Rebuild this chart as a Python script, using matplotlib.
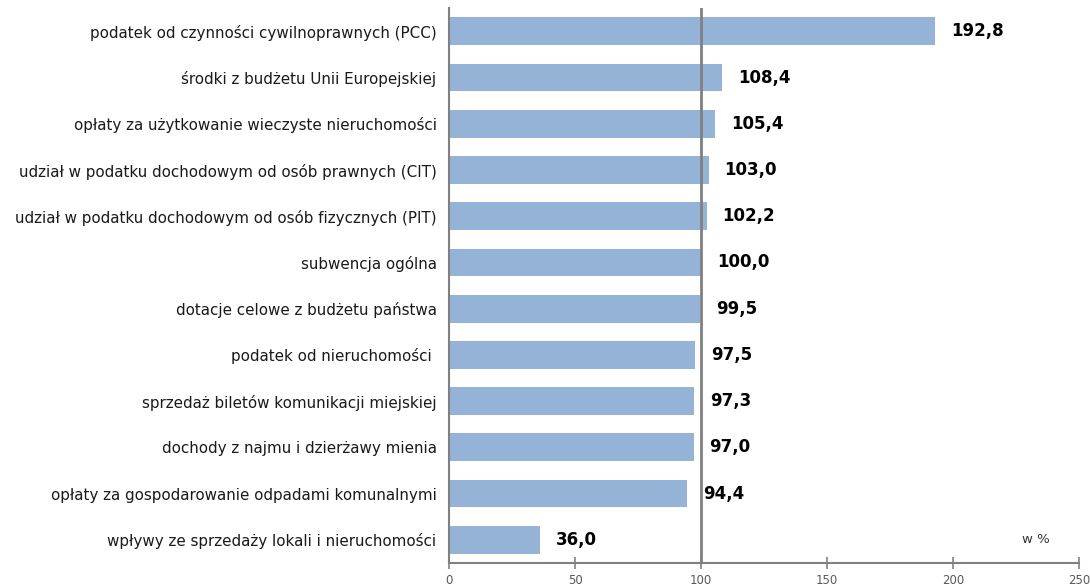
import matplotlib.pyplot as plt

categories = [
    "podatek od czynności cywilnoprawnych (PCC)",
    "środki z budżetu Unii Europejskiej",
    "opłaty za użytkowanie wieczyste nieruchomości",
    "udział w podatku dochodowym od osób prawnych (CIT)",
    "udział w podatku dochodowym od osób fizycznych (PIT)",
    "subwencja ogólna",
    "dotacje celowe z budżetu państwa",
    "podatek od nieruchomości ",
    "sprzedaż biletów komunikacji miejskiej",
    "dochody z najmu i dzierżawy mienia",
    "opłaty za gospodarowanie odpadami komunalnymi",
    "wpływy ze sprzedaży lokali i nieruchomości",
]
values = [192.8, 108.4, 105.4, 103.0, 102.2, 100.0, 99.5, 97.5, 97.3, 97.0, 94.4, 36.0]
xticks = [0, 50, 100, 150, 200, 250]

fig = plt.figure(figsize=(10.9, 5.87), dpi=100)
ax = fig.add_axes([0.412, 0.041, 0.578, 0.945])

pos = list(range(len(categories)))
ax.barh(pos, values, height=0.6, color="#95B3D7", zorder=2)
ax.axvline(100, color="#808080", linewidth=2, zorder=3)

# value labels next to bars, decimal comma
for y, v in zip(pos, values):
    ax.annotate(f"{v:.1f}".replace(".", ","), (v, y), xytext=(16, 0),
                textcoords="offset pixels",
                va="center", ha="left", fontsize=12, fontweight="bold", color="black")

ax.set_ylim(len(categories) - 0.5, -0.5)
ax.set_xlim(0, 250)
ax.set_yticks(pos)
ax.set_yticklabels(categories, fontsize=10.9, color="#1a1a1a")
ax.tick_params(axis="y", length=0, pad=9)
ax.set_xticks(xticks)
ax.set_xticklabels([str(t) for t in xticks], fontsize=8.5, color="#595959")
ax.tick_params(axis="x", direction="inout", length=8, width=1.2, color="#808080", pad=4)

for s in ["top", "right"]:
    ax.spines[s].set_visible(False)
for s in ["left", "bottom"]:
    ax.spines[s].set_color("#808080")
    ax.spines[s].set_linewidth(1.5)

ax.text(0.91, 0.03, "w %", transform=ax.transAxes, fontsize=9.5, color="#333333",
        ha="left", va="bottom")

fig.savefig("out.png", dpi=100)
